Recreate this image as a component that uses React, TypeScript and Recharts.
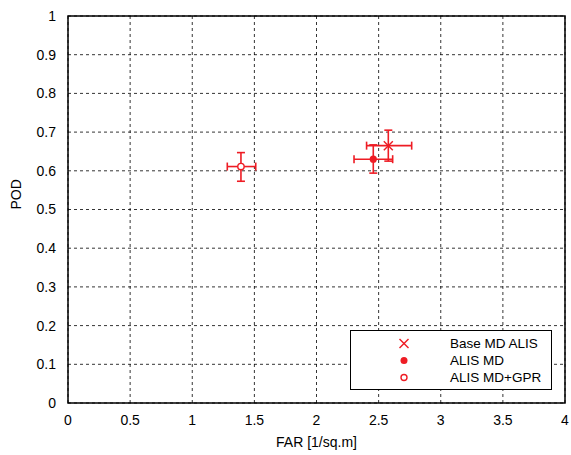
import { ScatterChart, Scatter, XAxis, YAxis, CartesianGrid, ErrorBar, ReferenceArea } from 'recharts'

const xTicks = [0, 0.5, 1, 1.5, 2, 2.5, 3, 3.5, 4]
const yTicks = [0, 0.1, 0.2, 0.3, 0.4, 0.5, 0.6, 0.7, 0.8, 0.9, 1]

// FAR, POD with [minus, plus] errors
const baseMd = [{ far: 2.578, pod: 0.665, farErr: [0.175, 0.188], podErr: [0.04, 0.04] }]
const alisMd = [{ far: 2.457, pod: 0.63, farErr: [0.155, 0.156], podErr: [0.036, 0.037] }]
const alisGpr = [{ far: 1.392, pod: 0.611, farErr: [0.11, 0.119], podErr: [0.038, 0.036] }]

const RED = '#ee1c24'
const FONT = '"Liberation Sans", Arial, sans-serif'

const Cross = (p: any) => {
  const s = 4.5
  return (
    <g stroke={RED} strokeWidth={1.4}>
      <line x1={p.cx - s} y1={p.cy - s} x2={p.cx + s} y2={p.cy + s} />
      <line x1={p.cx - s} y1={p.cy + s} x2={p.cx + s} y2={p.cy - s} />
    </g>
  )
}
const Dot = (p: any) => <circle cx={p.cx} cy={p.cy} r={3.6} fill={RED} />
const Ring = (p: any) => <circle cx={p.cx} cy={p.cy} r={3.2} fill="#fff" stroke={RED} strokeWidth={1.4} />

const legendItems = [
  { name: 'Base MD ALIS', kind: 'x' },
  { name: 'ALIS MD', kind: 'dot' },
  { name: 'ALIS MD+GPR', kind: 'ring' },
]

const LegendBox = () => (
  <div style={{ position: 'absolute', left: 350, top: 330, width: 200, height: 58, border: '1.5px solid #000', background: '#fff', fontFamily: FONT, fontSize: 13.5 }}>
    {legendItems.map((it, i) => (
      <div key={it.name} style={{ position: 'absolute', top: 4 + i * 17, left: 0, height: 17, display: 'flex', alignItems: 'center' }}>
        <svg width={99} height={17}>
          {it.kind === 'x' && Cross({ cx: 53, cy: 8.5 })}
          {it.kind === 'dot' && <circle cx={53} cy={8.5} r={3.5} fill={RED} />}
          {it.kind === 'ring' && <circle cx={53} cy={8.5} r={3} fill="#fff" stroke={RED} strokeWidth={1.4} />}
        </svg>
        <span>{it.name}</span>
      </div>
    ))}
  </div>
)

export default function App() {
  return (
    <div style={{ position: 'relative', width: 571, height: 455, background: '#fff' }}>
      <style>{'body{margin:0}'}</style>
      <ScatterChart width={571} height={455} margin={{ top: 16, right: 6, left: 0, bottom: 0 }} style={{ fontFamily: FONT }}>
        <CartesianGrid stroke="#000" strokeDasharray="3 3" strokeWidth={0.8} />
        <XAxis
          type="number" dataKey="far" domain={[0, 4]} ticks={xTicks} height={52}
          axisLine={false} tickLine={false} tick={{ fontSize: 14, fill: '#000' }} tickMargin={6}
          label={{ value: 'FAR [1/sq.m]', position: 'insideBottom', offset: 8, fontSize: 14, fill: '#000' }}
        />
        <YAxis
          type="number" dataKey="pod" domain={[0, 1]} ticks={yTicks} width={68}
          axisLine={false} tickLine={false} tick={{ fontSize: 14, fill: '#000' }} tickMargin={6}
          label={{ value: 'POD', angle: -90, position: 'insideLeft', offset: 16, fontSize: 14, fill: '#000' }}
        />
        <ReferenceArea x1={0} x2={4} y1={0} y2={1} fill="none" stroke="#000" strokeWidth={1.5} fillOpacity={0} ifOverflow="visible" />
        <Scatter name="Base MD ALIS" data={baseMd} shape={Cross} isAnimationActive={false}>
          <ErrorBar dataKey="farErr" direction="x" stroke={RED} strokeWidth={1.6} width={4} />
          <ErrorBar dataKey="podErr" direction="y" stroke={RED} strokeWidth={1.6} width={4} />
        </Scatter>
        <Scatter name="ALIS MD" data={alisMd} shape={Dot} isAnimationActive={false}>
          <ErrorBar dataKey="farErr" direction="x" stroke={RED} strokeWidth={1.6} width={4} />
          <ErrorBar dataKey="podErr" direction="y" stroke={RED} strokeWidth={1.6} width={4} />
        </Scatter>
        <Scatter name="ALIS MD+GPR" data={alisGpr} shape={Ring} isAnimationActive={false}>
          <ErrorBar dataKey="farErr" direction="x" stroke={RED} strokeWidth={1.6} width={4} />
          <ErrorBar dataKey="podErr" direction="y" stroke={RED} strokeWidth={1.6} width={4} />
        </Scatter>
      </ScatterChart>
      <LegendBox />
    </div>
  )
}
